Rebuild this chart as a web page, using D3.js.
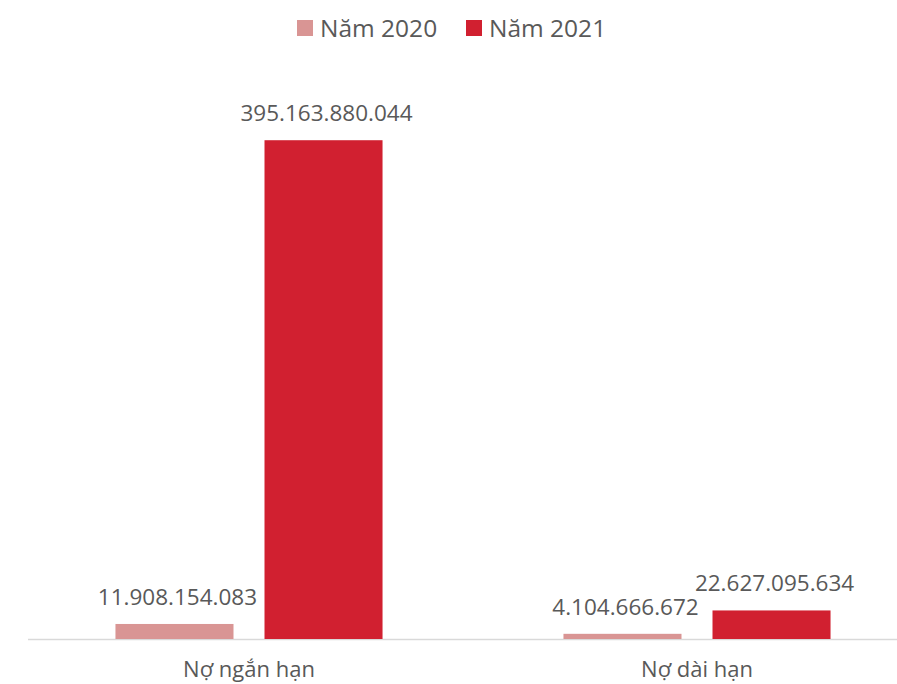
<!DOCTYPE html>
<html><head><meta charset="utf-8">
<script src="https://cdn.jsdelivr.net/npm/d3@7"></script>
<style>body{margin:0;background:#fff}svg{display:block}text{font-family:"Open Sans",sans-serif;fill:#595959}</style>
</head><body>
<svg id="c" width="897" height="684"></svg>
<script>
const categories = ["Nợ ngắn hạn", "Nợ dài hạn"];
const seriesNames = ["Năm 2020", "Năm 2021"];
const values2020 = [11908154083, 4104666672];
const values2021 = [395163880044, 22627095634];
const labels2020 = ["11.908.154.083", "4.104.666.672"];
const labels2021 = ["395.163.880.044", "22.627.095.634"];
const colors = ["#D99594", "#D12030"];

const svg = d3.select("#c");
const baseY = 639;
const x0 = d3.scaleBand().domain(categories).range([25, 921]).paddingInner(0).paddingOuter(0);
const x1 = d3.scaleBand().domain(seriesNames).range([0, x0.bandwidth()]).paddingInner(0.208).paddingOuter(0.607);
const y = d3.scaleLinear().domain([0, 450e9]).range([baseY, 71]);

const series = [values2020, values2021];
const labels = [labels2020, labels2021];

// axis line
svg.append("line").attr("x1", 28).attr("x2", 897).attr("y1", baseY + 0.5).attr("y2", baseY + 0.5)
  .attr("stroke", "#D9D9D9").attr("stroke-width", 1.5);

seriesNames.forEach((s, si) => {
  const g = svg.append("g");
  g.selectAll("rect").data(categories).join("rect")
    .attr("x", c => x0(c) + x1(s))
    .attr("width", x1.bandwidth())
    .attr("y", (c, i) => y(series[si][i]))
    .attr("height", (c, i) => baseY - y(series[si][i]))
    .attr("fill", colors[si]);
  g.selectAll("text").data(categories).join("text")
    .attr("x", c => x0(c) + x1(s) + x1.bandwidth() / 2 + 3)
    .attr("y", (c, i) => y(series[si][i]) - 19)
    .attr("text-anchor", "middle")
    .attr("font-size", 22.5)
    .text((c, i) => labels[si][i]);
});

// category axis labels
const xAxis = d3.axisBottom(x0).tickSize(0).tickPadding(0);
const ax = svg.append("g").attr("transform", `translate(0,${baseY})`).call(xAxis);
ax.select(".domain").remove();
ax.selectAll("text").attr("y", 38).attr("dy", 0).attr("font-size", 22).style("font-family", '"Open Sans",sans-serif').attr("fill", "#595959");

// legend
const legendX = [297, 466];
seriesNames.forEach((s, si) => {
  svg.append("rect").attr("x", legendX[si]).attr("y", 20).attr("width", 16).attr("height", 16).attr("fill", colors[si]);
  svg.append("text").attr("x", legendX[si] + 23).attr("y", 37).attr("font-size", 24.5).text(s);
});
</script>
</body></html>
